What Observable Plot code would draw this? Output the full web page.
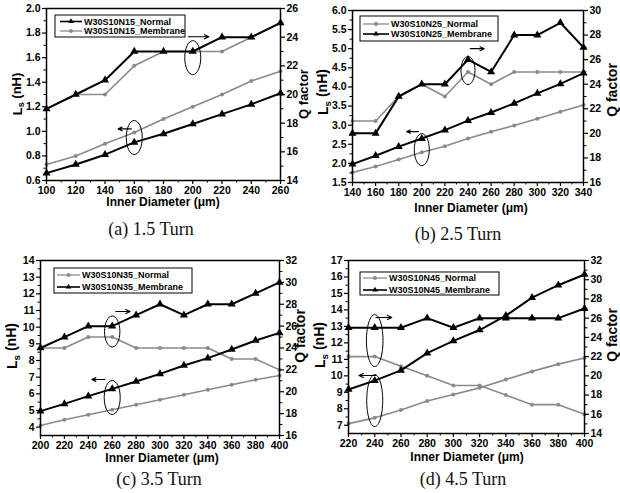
<!DOCTYPE html>
<html><head><meta charset="utf-8">
<script src="https://cdn.jsdelivr.net/npm/d3@7"></script>
<script src="https://cdn.jsdelivr.net/npm/@observablehq/plot@0.6"></script>
<style>
body{margin:0;background:#fff;}
#root{position:relative;width:620px;height:493px;overflow:hidden;background:#fff;}
.cap{position:absolute;font-family:"Liberation Serif","Times New Roman",serif;font-size:18px;color:#111;white-space:nowrap;transform:translateX(-50%);}
</style></head><body><div id="root"></div>
<script>
// ---------- data ----------
// (a) 1.5 Turn
const xA = [100,120,140,160,180,200,220,240,260];
const lsNormalA   = [0.66,0.73,0.81,0.91,0.98,1.06,1.14,1.22,1.31];
const lsMembraneA = [0.73,0.80,0.90,0.99,1.10,1.20,1.30,1.41,1.49];
const qNormalA    = [19,20,21,23,23,23,24,24,25];
const qMembraneA  = [19,20,20,22,23,23,23,24,25];
const namesA = ["W30S10N15_Normal","W30S10N15_Membrane"];
const xTicksA = [100,120,140,160,180,200,220,240,260];
const lsTicksA = [0.6,0.8,1.0,1.2,1.4,1.6,1.8,2.0];
const qTicksA = [14,16,18,20,22,24,26];
const ellipsesA = [{x:200,y:1.60},{x:160,y:0.95}];
const arrowsA = [{x1:197,y1:1.77,x2:211,y2:1.77},{x1:158,y1:1.02,x2:149,y2:1.02}];

// (b) 2.5 Turn
const xB = [140,160,180,200,220,240,260,280,300,320,340];
const lsNormalB   = [1.76,1.92,2.10,2.29,2.45,2.65,2.83,2.99,3.17,3.35,3.53];
const lsMembraneB = [1.98,2.20,2.44,2.65,2.87,3.12,3.33,3.57,3.83,4.08,4.36];
const qNormalB    = [21,21,23,24,23,25,24,25,25,25,25];
const qMembraneB  = [20,20,23,24,24,26,25,28,28,29,27];
const namesB = ["W30S10N25_Normal","W30S10N25_Membrane"];
const xTicksB = [140,160,180,200,220,240,260,280,300,320,340];
const lsTicksB = [1.5,2.0,2.5,3.0,3.5,4.0,4.5,5.0,5.5,6.0];
const qTicksB = [16,18,20,22,24,26,28,30];
const ellipsesB = [{x:240,y:4.43},{x:200,y:2.36}];
const arrowsB = [{x1:242,y1:5.0,x2:254,y2:5.0},{x1:197,y1:2.83,x2:187,y2:2.83}];

// (c) 3.5 Turn
const xC = [200,220,240,260,280,300,320,340,360,380,400];
const lsNormalC   = [4.10,4.44,4.74,5.04,5.34,5.64,5.94,6.24,6.54,6.84,7.10];
const lsMembraneC = [4.96,5.40,5.86,6.30,6.74,7.20,7.70,8.14,8.66,9.20,9.66];
const qNormalC    = [24,24,25,25,24,24,24,24,23,23,22];
const qMembraneC  = [24,25,26,26,27,28,27,28,28,29,30];
const namesC = ["W30S10N35_Normal","W30S10N35_Membrane"];
const xTicksC = [200,220,240,260,280,300,320,340,360,380,400];
const lsTicksC = [4,5,6,7,8,9,10,11,12,13,14];
const qTicksC = [16,18,20,22,24,26,28,30,32];
const ellipsesC = [{x:260,y:9.74},{x:260,y:5.78}];
const arrowsC = [{x1:263,y1:10.94,x2:275,y2:10.94},{x1:254,y1:6.86,x2:243,y2:6.86}];

// (d) 4.5 Turn
const xD = [220,240,260,280,300,320,340,360,380,400];
const lsNormalD   = [7.10,7.45,7.92,8.47,8.87,9.27,9.77,10.27,10.71,11.08];
const lsMembraneD = [9.17,9.71,10.33,11.38,12.12,12.78,13.65,14.75,15.50,16.15];
const qNormalD    = [22,22,21,20,19,19,18,17,17,16];
const qMembraneD  = [25,25,25,26,25,26,26,26,26,27];
const namesD = ["W30S10N45_Normal","W30S10N45_Membrane"];
const xTicksD = [220,240,260,280,300,320,340,360,380,400];
const lsTicksD = [7,8,9,10,11,12,13,14,15,16,17];
const qTicksD = [14,16,18,20,22,24,26,28,30,32];
const ellipsesD = [{x:240,y:12.14},{x:240,y:8.5}];
const arrowsD = [{x1:241,y1:13.54,x2:253,y2:13.54},{x1:241,y1:10.02,x2:228,y2:10.02}];

const captions = ["(a) 1.5 Turn","(b) 2.5 Turn","(c) 3.5 Turn","(d) 4.5 Turn"];
const xLabel = "Inner Diameter (μm)";
const qLabel = "Q factor";

// ---------- drawing ----------
const FONT = '"Liberation Sans", Arial, Helvetica, sans-serif';
const GRAY = "#8a8a8a";
const BLACK = "#000";
const styleBlack = {color: BLACK, symbol: "triangle", r: 3, width: 2};
const styleGray = {color: GRAY, symbol: "circle", r: 2, width: 1.6};

function ellipseSymbol(rx, ry) {
  const k = 0.5523;
  return {draw(ctx) {
    ctx.moveTo(rx, 0);
    ctx.bezierCurveTo(rx, ry*k, rx*k, ry, 0, ry);
    ctx.bezierCurveTo(-rx*k, ry, -rx, ry*k, -rx, 0);
    ctx.bezierCurveTo(-rx, -ry*k, -rx*k, -ry, 0, -ry);
    ctx.bezierCurveTo(rx*k, -ry, rx, -ry*k, rx, 0);
    ctx.closePath();
  }};
}

function midpoints(t) { const m = []; for (let i = 0; i < t.length - 1; i++) m.push((t[i] + t[i+1]) / 2); return m; }

function makePanel(c) {
  const [L0, L1] = c.lsDomain, [Q0, Q1] = c.qDomain;
  const toLeft = q => L0 + (q - Q0) * (L1 - L0) / (Q1 - Q0);
  const fromLeft = v => Q0 + (v - L0) * (Q1 - Q0) / (L1 - L0);
  const marks = [];
  const drawOrder = [...c.series].sort((a, b) => (a.style === styleGray ? 0 : 1) - (b.style === styleGray ? 0 : 1));
  for (const s of drawOrder) {
    const lsRows = c.x.map((x, i) => ({x, v: s.ls[i]}));
    const qRows = c.x.map((x, i) => ({x, v: toLeft(s.q[i])}));
    for (const rows of [lsRows, qRows]) {
      marks.push(Plot.line(rows, {x: "x", y: "v", stroke: s.style.color, strokeWidth: s.style.width}));
      marks.push(Plot.dot(rows, {x: "x", y: "v", symbol: s.style.symbol, r: s.style.r, fill: s.style.color, stroke: "none"}));
    }
  }
  c.ellipses.forEach((e, i) => {
    const [rx, ry] = c.ellSize[i];
    marks.push(Plot.dot([e], {x: "x", y: "y", symbol: ellipseSymbol(rx, ry), fill: "none", stroke: BLACK, strokeWidth: 1}));
  });
  marks.push(Plot.arrow(c.arrows, {x1: "x1", y1: "y1", x2: "x2", y2: "y2", stroke: BLACK, strokeWidth: 1.2, headLength: 6, headAngle: 50}));
  // axes
  marks.push(Plot.axisX(midpoints(c.xTicks), {tickSize: 2.5, tickFormat: () => "", label: null}));
  marks.push(Plot.axisX(c.xTicks, {tickSize: 4, tickPadding: 2, tickFormat: d => String(d), label: null, strokeWidth: 1.2}));
  marks.push(Plot.axisY(midpoints(c.lsTicks), {anchor: "left", tickSize: 2.5, tickFormat: () => "", label: null}));
  marks.push(Plot.axisY(c.lsTicks, {anchor: "left", tickSize: 4, tickPadding: 2, tickFormat: c.lsFmt, label: null, strokeWidth: 1.2}));
  marks.push(Plot.axisY(midpoints(c.qTicks).map(toLeft), {anchor: "right", tickSize: 2.5, tickFormat: () => "", label: null}));
  marks.push(Plot.axisY(c.qTicks.map(toLeft), {anchor: "right", tickSize: 4, tickPadding: 2, tickFormat: v => String(Math.round(fromLeft(v))), label: null, strokeWidth: 1.2}));
  marks.push(Plot.frame({stroke: BLACK, strokeWidth: 1.5}));

  const svg = Plot.plot({
    width: c.width, height: c.height,
    marginLeft: c.m[3], marginRight: c.m[1], marginTop: c.m[0], marginBottom: c.m[2],
    style: {fontFamily: FONT, fontSize: c.tickFont + "px", fontWeight: "bold", color: BLACK, background: "transparent", overflow: "visible"},
    x: {domain: c.xDomain, label: null},
    y: {domain: c.lsDomain, label: null},
    marks
  });
  const sel = d3.select(svg);
  // axis titles
  const titles = sel.append("g").attr("font-family", FONT).attr("font-weight", "bold")
    .attr("font-size", c.labFont + "px").attr("text-anchor", "middle").attr("fill", BLACK);
  titles.append("text").attr("transform", `translate(${c.xLab[0]},${c.xLab[1]})`).attr("dy", "0.35em")
    .attr("font-size", "12px").text(xLabel);
  titles.append("text").attr("transform", `translate(${c.yLabR[0]},${c.yLabR[1]}) rotate(-90)`).attr("dy", "0.35em").text(qLabel);
  const ly = titles.append("text").attr("transform", `translate(${c.yLabL[0]},${c.yLabL[1]}) rotate(-90)`).attr("dy", "0.35em");
  ly.append("tspan").text("L");
  ly.append("tspan").attr("font-size", "0.7em").attr("dy", "0.3em").text("s");
  ly.append("tspan").attr("dy", "-0.25em").text(" (nH)");
  // legend (inset box)
  const lg = c.legend;
  const g = sel.append("g").attr("font-family", FONT).attr("font-weight", "bold").attr("font-size", "9px");
  g.append("rect").attr("x", lg.x).attr("y", lg.y).attr("width", lg.w).attr("height", lg.h)
    .attr("fill", "white").attr("stroke", BLACK).attr("stroke-width", 1);
  c.series.forEach((s, i) => {
    const yy = lg.y + lg.rows[i];
    g.append("line").attr("x1", lg.x + lg.l0).attr("x2", lg.x + lg.l1).attr("y1", yy).attr("y2", yy)
      .attr("stroke", s.style.color).attr("stroke-width", s.style.width * 0.8);
    const sym = s.style.symbol === "triangle" ? d3.symbolTriangle2 : d3.symbolCircle;
    g.append("path").attr("d", d3.symbol(sym, s.style.symbol === "triangle" ? 22 : 12)())
      .attr("transform", `translate(${lg.x + (lg.l0 + lg.l1) / 2},${yy})`).attr("fill", s.style.color);
    g.append("text").attr("x", lg.x + lg.l1 + 2).attr("y", yy).attr("dy", "0.35em")
      .attr("text-anchor", "start").attr("fill", BLACK).text(s.name);
  });
  svg.style.position = "absolute";
  svg.style.left = c.left + "px";
  svg.style.top = c.top + "px";
  return svg;
}

const fmt1 = d => d.toFixed(1);
const fmt0 = d => String(d);
const panels = [
  {left: 0, top: 0, width: 310, height: 215, m: [8, 30, 35, 46], tickFont: 10.5, labFont: 13,
   x: xA, xDomain: [100, 260], xTicks: xTicksA, lsDomain: [0.6, 2.0], lsTicks: lsTicksA, lsFmt: fmt1,
   qDomain: [14, 26], qTicks: qTicksA,
   series: [{name: namesA[0], ls: lsNormalA, q: qNormalA, style: styleBlack}, {name: namesA[1], ls: lsMembraneA, q: qMembraneA, style: styleGray}],
   ellipses: ellipsesA, ellSize: [[8, 17], [8, 17]], arrows: arrowsA,
   xLab: [163, 202], yLabL: [17, 94], yLabR: [303, 94],
   legend: {x: 55, y: 15, w: 130, h: 22, rows: [6.5, 16], l0: 5, l1: 27}},
  {left: 310, top: 0, width: 310, height: 215, m: [10, 37, 33, 42], tickFont: 10.5, labFont: 14,
   x: xB, xDomain: [140, 340], xTicks: xTicksB, lsDomain: [1.5, 6.0], lsTicks: lsTicksB, lsFmt: fmt1,
   qDomain: [16, 30], qTicks: qTicksB,
   series: [{name: namesB[0], ls: lsNormalB, q: qNormalB, style: styleGray}, {name: namesB[1], ls: lsMembraneB, q: qMembraneB, style: styleBlack}],
   ellipses: ellipsesB, ellSize: [[7, 14], [7.5, 16]], arrows: arrowsB,
   xLab: [161, 208], yLabL: [13, 92], yLabR: [302, 90],
   legend: {x: 50, y: 16, w: 138, h: 25, rows: [8, 18], l0: 3, l1: 29}},
  {left: 0, top: 245, width: 310, height: 220, m: [15, 31, 30, 40], tickFont: 10.5, labFont: 14,
   x: xC, xDomain: [200, 400], xTicks: xTicksC, lsDomain: [3.5, 14], lsTicks: lsTicksC, lsFmt: fmt0,
   qDomain: [16, 32], qTicks: qTicksC,
   series: [{name: namesC[0], ls: lsNormalC, q: qNormalC, style: styleGray}, {name: namesC[1], ls: lsMembraneC, q: qMembraneC, style: styleBlack}],
   ellipses: ellipsesC, ellSize: [[7.7, 15.5], [8, 17]], arrows: arrowsC,
   xLab: [162, 213], yLabL: [12, 101], yLabR: [300, 91],
   legend: {x: 54, y: 23, w: 138, h: 25, rows: [7, 19], l0: 3, l1: 26}},
  {left: 310, top: 245, width: 310, height: 220, m: [15, 36, 32, 38], tickFont: 10.5, labFont: 14,
   x: xD, xDomain: [220, 400], xTicks: xTicksD, lsDomain: [6.5, 17], lsTicks: lsTicksD, lsFmt: fmt0,
   qDomain: [14, 32], qTicks: qTicksD,
   series: [{name: namesD[0], ls: lsNormalD, q: qNormalD, style: styleGray}, {name: namesD[1], ls: lsMembraneD, q: qMembraneD, style: styleBlack}],
   ellipses: ellipsesD, ellSize: [[8.3, 26], [8, 26]], arrows: arrowsD,
   xLab: [157, 212], yLabL: [10, 100], yLabR: [302, 90],
   legend: {x: 50, y: 27, w: 139, h: 23, rows: [6, 18], l0: 3, l1: 27}}
];

const root = document.getElementById("root");
panels.forEach(p => root.appendChild(makePanel(p)));
const capPos = [[151, 219], [458, 224], [159, 469], [463, 469]];
captions.forEach((t, i) => {
  const d = document.createElement("div");
  d.className = "cap"; d.textContent = t;
  d.style.left = capPos[i][0] + "px"; d.style.top = capPos[i][1] + "px";
  root.appendChild(d);
});
</script></body></html>
